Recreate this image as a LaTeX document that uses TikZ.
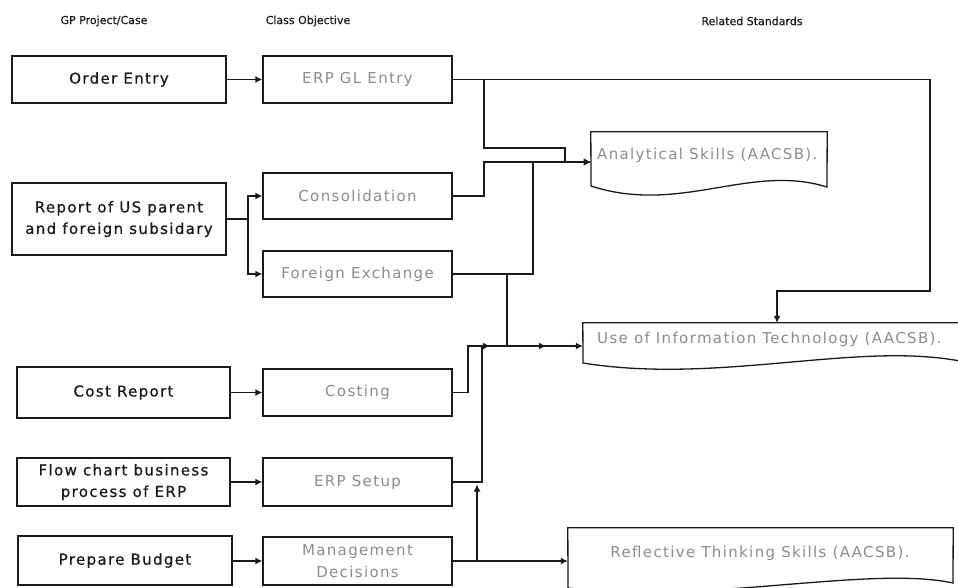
\documentclass[tikz,border=0pt]{standalone}
\usepackage{fontspec}
\setmainfont{DejaVu Sans}
\newfontfamily\boxfont[LetterSpace=9]{DejaVu Sans}
\newfontfamily\casefont[LetterSpace=9,FakeBold=0.6]{DejaVu Sans}
\newfontfamily\hdrfont[FakeBold=0.4]{DejaVu Sans}
\usetikzlibrary{arrows.meta}
\definecolor{ink}{HTML}{1A1A1A}
\definecolor{soft}{HTML}{8C8C8C}

\begin{document}
\begin{tikzpicture}[x=1pt, y=-1pt,
  box/.style={draw=ink, line width=1.3pt, minimum width=189pt, minimum height=47pt,
              inner sep=0pt, align=center, font=\boxfont\fontsize{15}{21.5}\selectfont},
  case/.style={box, text=ink, minimum width=214pt, font=\casefont\fontsize{15}{21.5}\selectfont},
  obj/.style={box, text=soft},
  hdr/.style={font=\hdrfont\fontsize{11}{13}\selectfont, text=ink},
  link/.style={draw=ink, line width=1.3pt},
  arr/.style={link, -{Latex[length=7pt,width=7pt]}},
  stdtext/.style={font=\boxfont\fontsize{15}{18}\selectfont, text=soft, inner sep=0pt},
  docframe/.style={inner sep=0pt}
]
% page
\fill[white] (0,0) rectangle (958,587);
\useasboundingbox (0,0) rectangle (958,587);
\clip (0,0) rectangle (958,587);

% column headings
\node[hdr] (h1) at (104,21) {GP Project/Case};
\node[hdr] (h2) at (308,21) {Class Objective};
\node[hdr] (h3) at (752,21) {Related Standards};

% projects / cases
\node[case, minimum height=47pt] (oe) at (119,79.5) {Order Entry};
\node[case, minimum height=72pt] (rep) at (119,219) {Report of US parent\\and foreign subsidary};
\node[case, minimum width=213pt, minimum height=51pt] (cr) at (123.5,392.5) {Cost Report};
\node[case, minimum width=213pt, minimum height=48pt] (fc) at (123.5,482) {Flow chart business\\process of ERP};
\node[case, minimum height=49pt] (pb) at (125,560.5) {Prepare Budget};

% class objectives
\node[obj] (gl) at (357.5,79.5) {ERP GL Entry};
\node[obj, minimum height=46pt] (con) at (357.5,196) {Consolidation};
\node[obj, minimum height=46pt] (fx) at (357.5,274) {Foreign Exchange};
\node[obj] (cst) at (357.5,392.5) {Costing};
\node[obj, minimum height=48pt] (setup) at (357.5,482) {ERP Setup};
\node[obj, minimum height=48pt] (md) at (357.5,561) {Management\\Decisions};

% standards (document shapes)
\node[docframe, minimum width=236pt, minimum height=60pt] (anl) at (709,162) {};
\node[docframe, minimum width=382pt, minimum height=46pt] (it) at (774,346) {};
\node[docframe, minimum width=385pt, minimum height=66pt] (rts) at (760.5,561) {};

\draw[link] (anl.north west) -- (anl.north east) -- (827,187)
  .. controls (750,163) and (680,215) .. (591,186) -- cycle;
\draw[link] (it.north west) -- (it.north east) -- (965,362)
  .. controls (860,340) and (720,385) .. (583,363) -- cycle;
\draw[link] (rts.north west) -- (rts.north east) -- (953,583)
  .. controls (870,565) and (700,605) .. (568,588) -- cycle;

\node[stdtext, anchor=west] (anlt) at (597,155) {Analytical Skills (AACSB).};
\node[stdtext, anchor=west] (itt) at (597,339) {Use of Information Technology (AACSB).};
\node[stdtext] (rtst) at (760,553) {Reflective Thinking Skills (AACSB).};

% projects -> objectives
\draw[arr] (oe) -- (gl);
\coordinate (rsplit) at (248,219);
\draw[link] (rep.east) -- (rsplit);
\draw[arr] (rsplit) |- (con.west);
\draw[arr] (rsplit) |- (fx.west);
\draw[arr] (cr) -- (cst);
\draw[arr] (fc) -- (setup);
\draw[arr] (pb.east |- md.west) -- (md.west);

% objectives -> standards
\draw[arr] (gl.east) -| (930,291) -| (777,0 |- it.north);
\coordinate (glbr) at (484,79.5);
\draw[arr] (glbr) |- (565,148) |- (anl.west);
\draw[arr] (con.east) -| (484,162) -- (anl.west);
\draw[arr] (fx.east) -| (533,162) -- (anl.west);
\coordinate (fxbr) at (507,274);
\draw[arr] (fxbr) |- (it.west);
\coordinate (cstend) at (490,346);
\draw[arr] (cst.east) -| (468,346) -- (cstend);
\coordinate (setupend) at (546,346);
\draw[arr] (setup.east) -| (482,346) -- (setupend);
\draw[arr] (md) -- (rts);
\coordinate (mdbr) at (477,561);
\coordinate (mdup) at (477,484.5);
\draw[arr] (mdbr) -- (mdup);
\end{tikzpicture}
\end{document}
